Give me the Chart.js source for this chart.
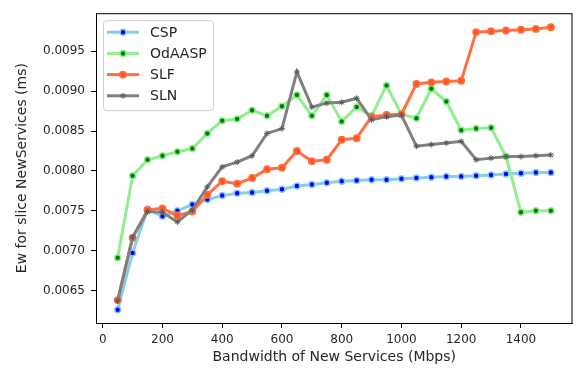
<!DOCTYPE html>
<html>
<head>
<meta charset="utf-8">
<script src="https://cdn.jsdelivr.net/npm/chart.js@4/dist/chart.umd.min.js"></script>
<style>
    html, body { margin: 0; padding: 0; background: #fff; }
    #wrap { width: 578px; height: 368px; }
</style>
</head>
<body>
<div id="wrap"><canvas id="ewChart" width="578" height="368"></canvas></div>
<script>
const bandwidth = [50, 100, 150, 200, 250, 300, 350, 400, 450, 500, 550, 600, 650, 700, 750,
    800, 850, 900, 950, 1000, 1050, 1100, 1150, 1200, 1250, 1300, 1350, 1400, 1450, 1500];
const csp = [0.00626, 0.00697, 0.00752, 0.00743, 0.00750, 0.00758, 0.00764, 0.00769, 0.00772, 0.00773,
    0.00775, 0.00777, 0.00781, 0.00783, 0.00785, 0.00787, 0.00788, 0.00789, 0.00789, 0.00790,
    0.00791, 0.00792, 0.00793, 0.00793, 0.00794, 0.00795, 0.00796, 0.00797, 0.00798, 0.00798];
const odaasp = [0.00691, 0.00794, 0.00814, 0.00819, 0.00824, 0.00828, 0.00847, 0.00863, 0.00865, 0.00876,
    0.00869, 0.00881, 0.00895, 0.00869, 0.00895, 0.00862, 0.00880, 0.00869, 0.00907, 0.00871,
    0.00866, 0.00903, 0.00887, 0.00851, 0.00853, 0.00854, 0.00818, 0.00748, 0.00750, 0.00750];
const slf = [0.00638, 0.00716, 0.00751, 0.00753, 0.00744, 0.00749, 0.00770, 0.00787, 0.00784, 0.00791,
    0.00802, 0.00804, 0.00825, 0.00812, 0.00814, 0.00839, 0.00841, 0.00868, 0.00870, 0.00871,
    0.00909, 0.00911, 0.00912, 0.00913, 0.00974, 0.00975, 0.00976, 0.00977, 0.00978, 0.00980];
const sln = [0.00637, 0.00717, 0.00749, 0.00748, 0.00736, 0.00751, 0.00780, 0.00805, 0.00811, 0.00819,
    0.00847, 0.00853, 0.00924, 0.00880, 0.00885, 0.00886, 0.00891, 0.00864, 0.00868, 0.00870,
    0.00831, 0.00833, 0.00835, 0.00837, 0.00814, 0.00816, 0.00818, 0.00818, 0.00819, 0.00820];
const xTicks = [0, 200, 400, 600, 800, 1000, 1200, 1400];
const yTicks = [0.0065, 0.0070, 0.0075, 0.0080, 0.0085, 0.0090, 0.0095];

const FONT = "'DejaVu Sans', sans-serif";
const TEXT = "#262626";

function points(values) {
    return bandwidth.map((x, i) => ({ x: x, y: values[i] }));
}

// full box round the plot, like matplotlib spines
const frame = {
    id: "frame",
    afterDatasetsDraw(chart) {
        const a = chart.chartArea;
        const ctx = chart.ctx;
        ctx.save();
        ctx.strokeStyle = "#000";
        ctx.lineWidth = 1;
        ctx.strokeRect(a.left + 0.5, a.top + 0.5, a.right - a.left - 1, a.bottom - a.top);
        ctx.restore();
    }
};

// legend drawn inside the plot, upper left
const legendBox = {
    id: "legendBox",
    afterDraw(chart) {
        const ctx = chart.ctx;
        const a = chart.chartArea;
        const bx = a.left + 7, by = a.top + 7, bw = 110, bh = 90;
        ctx.save();
        ctx.beginPath();
        ctx.roundRect(bx + 0.5, by + 0.5, bw, bh, 3);
        ctx.fillStyle = "rgba(255,255,255,0.8)";
        ctx.fill();
        ctx.strokeStyle = "#d0d0d0";
        ctx.lineWidth = 1;
        ctx.stroke();
        ctx.font = "14px " + FONT;
        ctx.textBaseline = "middle";
        chart.data.datasets.forEach((ds, i) => {
            const y = by + 12 + i * 21.2;
            ctx.strokeStyle = ds.borderColor;
            ctx.lineWidth = ds.borderWidth;
            ctx.beginPath();
            ctx.moveTo(bx + 4, y);
            ctx.lineTo(bx + 36, y);
            ctx.stroke();
            ctx.fillStyle = ds.pointBackgroundColor;
            ctx.strokeStyle = ds.pointBorderColor;
            ctx.lineWidth = ds.pointBorderWidth;
            Chart.helpers.drawPoint(ctx, {
                pointStyle: ds.pointStyle, radius: ds.pointRadius,
                borderWidth: ds.pointBorderWidth, rotation: 0
            }, bx + 20, y);
            ctx.fillStyle = TEXT;
            ctx.fillText(ds.label, bx + 47, y + 1);
        });
        ctx.restore();
    }
};

new Chart(document.getElementById("ewChart"), {
    type: "line",
    data: {
        datasets: [
            {
                label: "CSP",
                data: points(csp),
                borderColor: "#87CEEB",
                borderWidth: 3,
                pointRadius: 3,
                pointBorderWidth: 1.5,
                pointBackgroundColor: "#0000FF",
                pointBorderColor: "#87CEEB",
                pointStyle: "circle",
                order: 4
            },
            {
                label: "OdAASP",
                data: points(odaasp),
                borderColor: "#90EE90",
                borderWidth: 3,
                pointRadius: 3,
                pointBorderWidth: 1.5,
                pointBackgroundColor: "#008000",
                pointBorderColor: "#90EE90",
                pointStyle: "circle",
                order: 3
            },
            {
                label: "SLF",
                data: points(slf),
                borderColor: "#FF7043",
                borderWidth: 3,
                pointRadius: 3.2,
                pointBorderWidth: 1.5,
                pointBackgroundColor: "#FF5722",
                pointBorderColor: "#FF7043",
                pointStyle: "circle",
                order: 2
            },
            {
                label: "SLN",
                data: points(sln),
                borderColor: "#808080",
                borderWidth: 3,
                pointRadius: 3,
                pointBorderWidth: 1,
                pointBackgroundColor: "#6a6a6a",
                pointBorderColor: "#5a5a5a",
                pointStyle: "star",
                order: 1
            }
        ]
    },
    options: {
        responsive: false,
        animation: false,
        devicePixelRatio: 1,
        layout: { padding: { top: 12, right: 2, left: 0, bottom: 0 } },
        plugins: {
            legend: { display: false },
            tooltip: { enabled: false }
        },
        elements: { line: { tension: 0 } },
        scales: {
            x: {
                type: "linear",
                min: -22.5,
                max: 1572.5,
                afterBuildTicks: scale => { scale.ticks = xTicks.map(v => ({ value: v })); },
                afterFit: scale => { scale.height = 45; },
                grid: { drawOnChartArea: false, tickLength: 5, tickColor: "#000" },
                border: { color: "#000", width: 1 },
                ticks: {
                    color: TEXT,
                    font: { family: FONT, size: 12 },
                    padding: 5,
                    maxRotation: 0,
                    callback: v => String(v)
                },
                title: {
                    display: true,
                    text: "Bandwidth of New Services (Mbps)",
                    color: TEXT,
                    font: { family: FONT, size: 14 },
                    padding: { top: 0, bottom: 2 }
                }
            },
            y: {
                type: "linear",
                min: 0.006093,
                max: 0.009977,
                afterBuildTicks: scale => { scale.ticks = yTicks.map(v => ({ value: v })); },
                afterFit: scale => { scale.width = 96; },
                grid: { drawOnChartArea: false, tickLength: 5, tickColor: "#000" },
                border: { color: "#000", width: 1 },
                ticks: {
                    color: TEXT,
                    font: { family: FONT, size: 12 },
                    padding: 6,
                    callback: v => v.toFixed(4)
                },
                title: {
                    display: true,
                    text: "Ew for slice NewServices (ms)",
                    color: TEXT,
                    font: { family: FONT, size: 14 },
                    padding: { top: 13.5, bottom: 0 }
                }
            }
        }
    },
    plugins: [frame, legendBox]
});
</script>
</body>
</html>
